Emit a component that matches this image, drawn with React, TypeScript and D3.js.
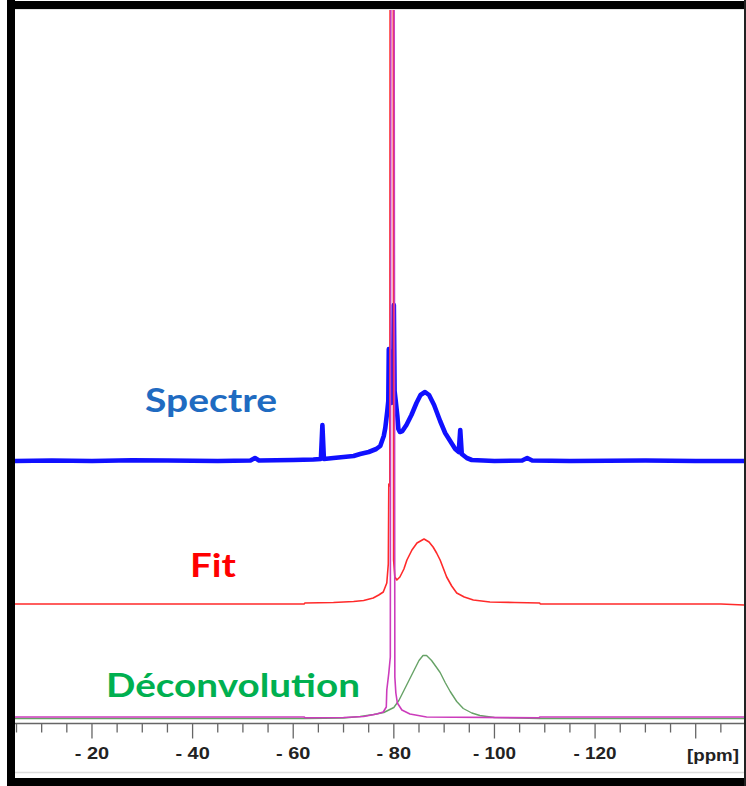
import React from 'react';
import * as d3 from 'd3';

// ppm (positive magnitude, axis shows "- N"), intensity above each baseline
const spectrePts: [number, number][] = [
  [4.7, 0], [12, 0.5], [20, 0], [28, 0.8], [35, 0.5], [45, 0], [51.5, 0.5], [52.4, 3], [53.2, 0.5], [60, 1], [64, 1.5],
  [65.5, 2], [65.8, 36], [66.1, 2], [68, 3], [70, 4], [72, 5], [73.3, 7], [75, 9], [76.5, 12],
  [77.3, 15], [78.0, 25], [78.3, 33], [78.7, 50], [78.9, 60], [79.0, 112], [79.15, 58], [79.5, 58],
  [79.85, 70], [80.0, 156], [80.15, 70], [80.4, 59], [80.7, 45], [80.9, 32], [81.2, 29], [81.7, 30],
  [82.5, 36], [83.5, 46], [84.5, 58], [85.3, 66], [86.2, 69], [87.0, 66], [88.0, 56], [89.2, 40],
  [90.2, 28], [91.2, 20], [92.2, 12], [92.9, 9], [93.2, 31], [93.5, 7], [94.5, 3], [95.5, 1],
  [100, 0], [105.5, 0.5], [106.5, 3], [107.5, 0.5], [115, 0], [130, 0.5], [140, 0], [149.6, 0],
];

const fitPts: [number, number][] = [
  [4.7, 0], [62.2, 0], [62.3, 1], [68, 1.5], [72, 2.5], [74, 3.5], [75.9, 6], [77.0, 9], [77.9, 12],
  [78.6, 21], [78.9, 40], [79.0, 120], [79.2, 118], [79.3, 1000], [79.85, 1000], [79.95, 44], [80.2, 27], [80.6, 24],
  [81.2, 27], [82.0, 35], [82.6, 44], [83.6, 54], [84.6, 61], [86.0, 65], [87.0, 62], [87.8, 57],
  [88.5, 51], [89.2, 44], [90.5, 27], [91.5, 18], [92.5, 11], [94, 7], [95.8, 4], [99.1, 2],
  [104, 1.5], [109, 1], [109.1, 0], [145, 0], [149.6, -1],
];

const deconvBroadPts: [number, number][] = [
  [4.7, 0], [62.3, 0], [70, 0.5], [73.3, 2], [76, 4], [78, 6], [80, 11], [81, 18], [82, 28], [83, 38],
  [84, 48], [85, 58], [85.8, 63], [86.5, 63], [87.5, 58], [88.5, 51], [89.2, 46], [90.2, 36],
  [91.2, 27], [92.5, 17], [93.8, 10], [95.5, 5.5], [97.1, 3], [98.5, 2], [100, 1], [109, 0], [149.6, 0],
];

const deconvNarrowPts: [number, number][] = [
  [4.7, 0], [62.2, 0], [62.3, -0.8], [70, -0.5], [74, 0.5], [76.6, 3], [77.9, 5], [78.5, 10],
  [78.6, 27], [79.0, 44], [79.3, 60], [79.45, 1000], [80.0, 1000], [80.2, 40], [80.4, 24],
  [80.7, 14], [81.6, 7], [83.2, 3], [86.5, 0], [108.9, -0.8], [109, 0], [149.6, 0],
];

const majorTicks = [20, 40, 60, 80, 100, 120, 140];
const minorTicks = [5, 10, 15, 25, 30, 35, 45, 50, 55, 65, 70, 75, 85, 90, 95, 105, 110, 115, 125, 130, 135, 145];
const tickLabelValues = [20, 40, 60, 80, 100, 120];
const tickLabels = ['- 20', '- 40', '- 60', '- 80', '- 100', '- 120'];
const unitLabel = '[ppm]';

const W = 746;
const H = 786;
const plotL = 15;
const plotR = 744;
const plotT = 9;
const axisY = 723.5;

const axisFont = "'Liberation Sans', Arial, sans-serif";

export default function App() {
  const x = d3.scaleLinear().domain([4.7, 149.6]).range([plotL, plotR]);
  const mk = (base: number) => d3.scaleLinear().domain([0, 100]).range([base, base - 100]);
  const yBlue = mk(461);
  const yRed = mk(604);
  const yGreen = mk(718.5);
  const yMag = mk(717);

  const lineFor = (ys: d3.ScaleLinear<number, number>) =>
    d3.line<[number, number]>().x((d) => x(d[0])).y((d) => ys(d[1]));

  const blueD = lineFor(yBlue)(spectrePts) || '';

  return (
    <svg width={W} height={H} style={{ position: 'absolute', left: 0, top: 0, background: '#fff' }}>
      <defs>
        <clipPath id="plotclip">
          <rect x={plotL} y={plotT} width={plotR - plotL} height={axisY - plotT} />
        </clipPath>
      </defs>
      <rect x={0} y={0} width={W} height={H} fill="#fff" />

      <g clipPath="url(#plotclip)" fill="none" strokeLinejoin="round">
        <path d={blueD} stroke="#1010ff" strokeWidth={4.6} />
        <path d={lineFor(yGreen)(deconvBroadPts) || ''} stroke="#66a266" strokeWidth={1.4} />
        <path d={lineFor(yRed)(fitPts) || ''} stroke="#ff2a2a" strokeWidth={1.6} />
        <path d={lineFor(yMag)(deconvNarrowPts) || ''} stroke="#cc3cbc" strokeWidth={1.6} />
      </g>

      {/* axis */}
      <line x1={plotL} x2={plotR} y1={axisY} y2={axisY} stroke="#666" strokeWidth={1.3} />
      {minorTicks.map((t) => (
        <line key={'m' + t} x1={x(t)} x2={x(t)} y1={axisY} y2={axisY + 9} stroke="#666" strokeWidth={1.3} />
      ))}
      {majorTicks.map((t) => (
        <line key={'M' + t} x1={x(t)} x2={x(t)} y1={axisY} y2={axisY + 15} stroke="#666" strokeWidth={1.3} />
      ))}
      {tickLabelValues.map((t, i) => (
        <text
          key={'l' + t}
          x={x(t) - tickLabels[i].length * 4.3}
          y={759}
          fontFamily={axisFont}
          fontWeight="bold"
          fontSize={17}
          fill="#222"
          textLength={tickLabels[i].length * 8.6}
          lengthAdjust="spacingAndGlyphs"
        >
          {tickLabels[i]}
        </text>
      ))}
      <text
        x={687}
        y={761}
        fontFamily={axisFont}
        fontWeight="bold"
        fontSize={17}
        fill="#222"
        textLength={52}
        lengthAdjust="spacingAndGlyphs"
      >
        {unitLabel}
      </text>

      {/* series labels */}
      <text x={145} y={412} fontFamily="Lato, 'Open Sans', sans-serif" fontWeight="bold" fontSize={33}
        fill="#1f6bc1" textLength={132} lengthAdjust="spacingAndGlyphs">Spectre</text>
      <text x={190} y={577} fontFamily="Lato, 'Open Sans', sans-serif" fontWeight="bold" fontSize={33}
        fill="#ff0000" textLength={46} lengthAdjust="spacingAndGlyphs">Fit</text>
      <text x={106} y={697} fontFamily="Lato, 'Open Sans', sans-serif" fontWeight="bold" fontSize={32}
        fill="#00b050" textLength={254} lengthAdjust="spacingAndGlyphs">Déconvolution</text>

      {/* frame */}
      <line x1={plotL} x2={plotR} y1={772.5} y2={772.5} stroke="#dcdcdc" strokeWidth={1.5} />
      <line x1={plotL} x2={plotR} y1={9.5} y2={9.5} stroke="#e4e4e4" strokeWidth={1} />
      <rect x={7} y={1} width={W - 7} height={8} fill="#000" />
      <rect x={7} y={0} width={8} height={H} fill="#000" />
      <rect x={7} y={778} width={W - 7} height={8} fill="#000" />
      <rect x={744} y={0} width={2} height={H} fill="#222" />
    </svg>
  );
}
